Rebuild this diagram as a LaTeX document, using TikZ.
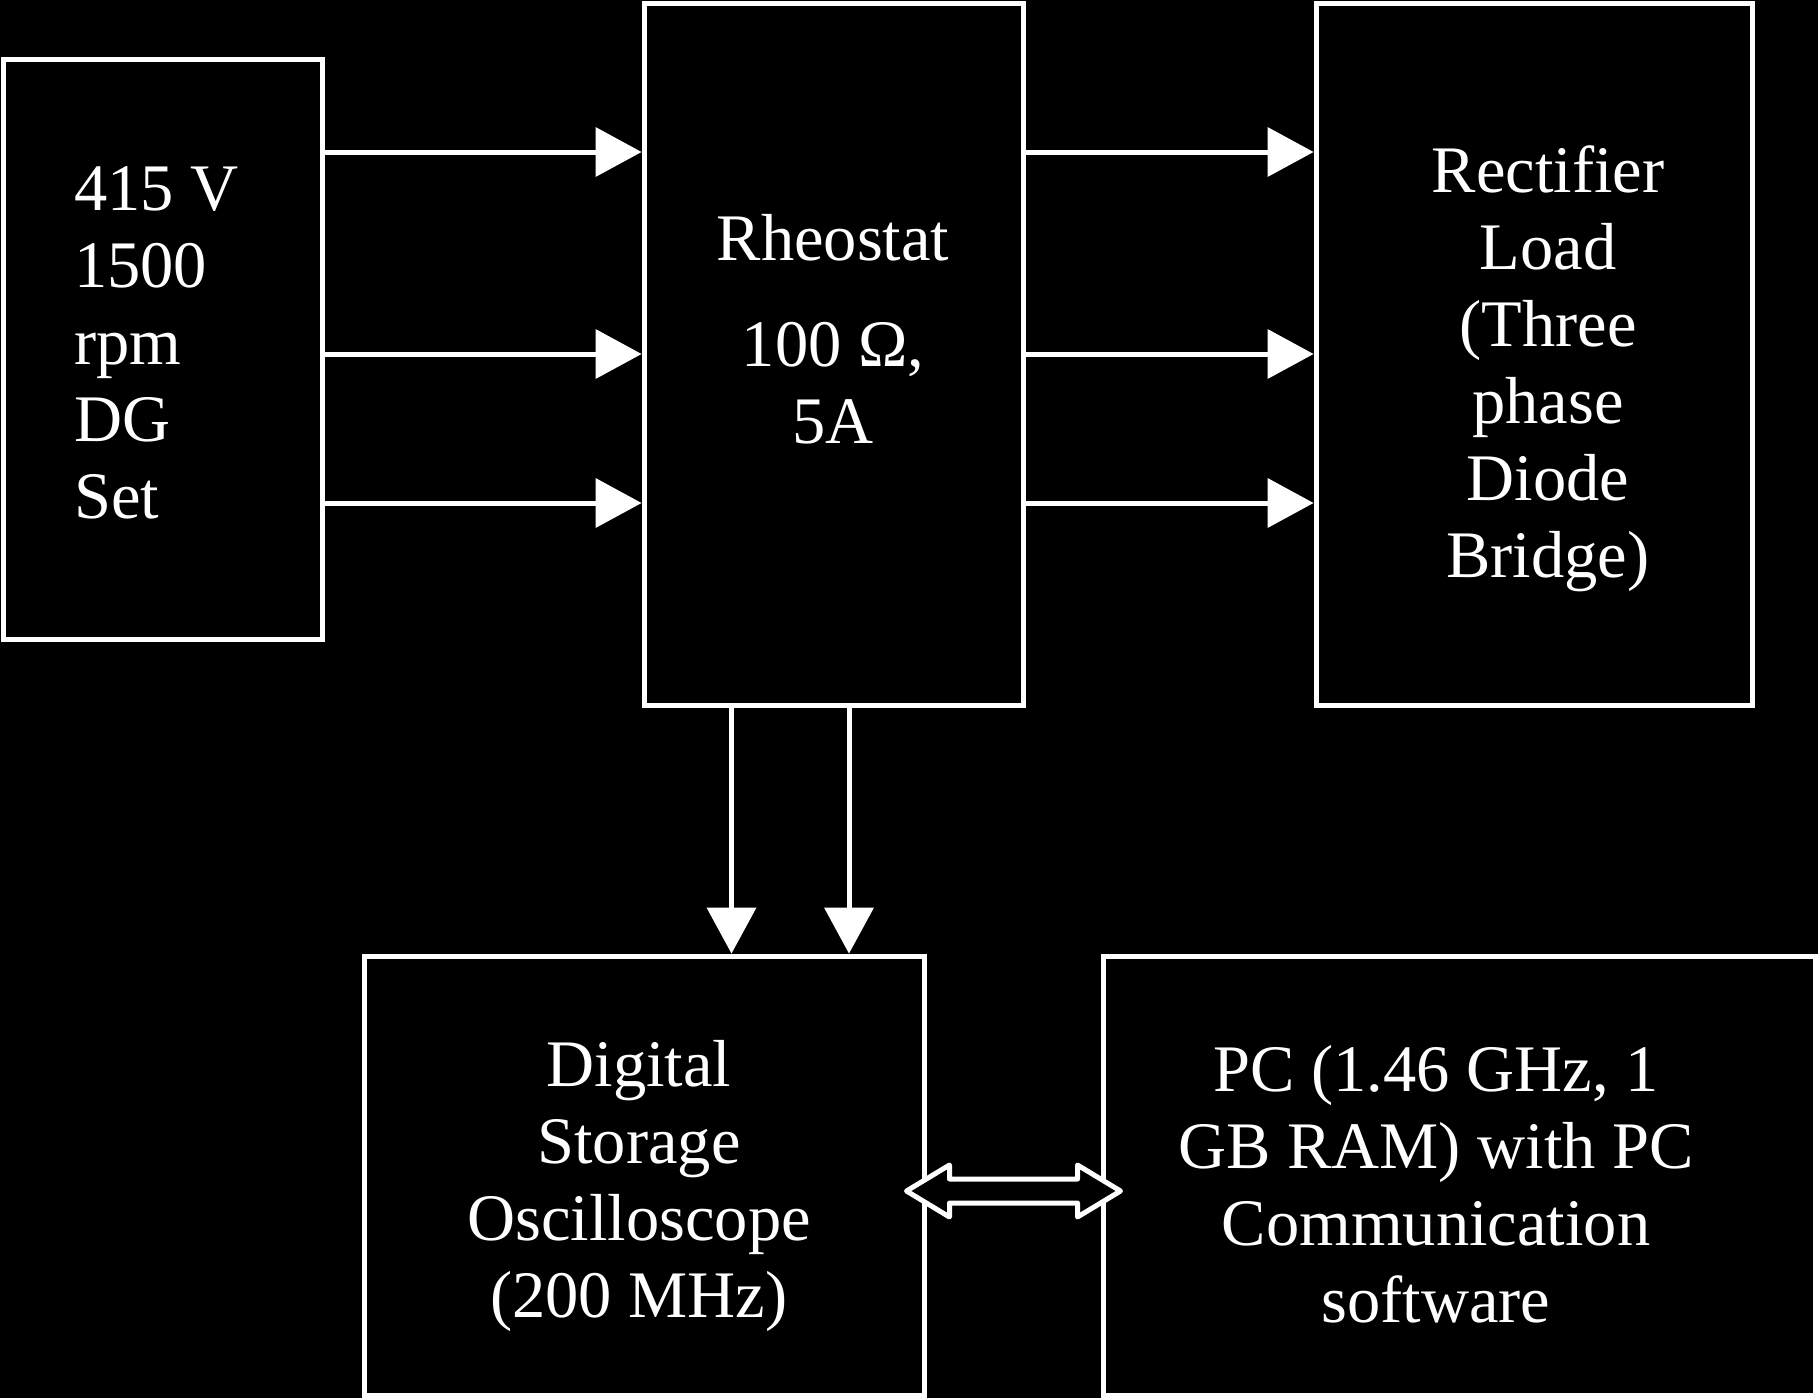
\documentclass[tikz,border=0pt]{standalone}
\usepackage{fontspec}
\setmainfont{Liberation Serif}
\usetikzlibrary{arrows.meta,calc}
\begin{document}
\begin{tikzpicture}[x=1pt,y=-1pt,
  box/.style={draw=white, line width=5pt, fill=black, inner sep=0pt},
  lbl/.style={text=white, inner sep=0pt, font=\fontsize{66.5pt}{77pt}\selectfont},
  arr/.style={draw=white, line width=5pt, -{Triangle[length=46pt,width=50pt,line width=0pt]}},
  dbl/.style={draw=white, fill=black, line width=5pt, line join=round}]
\fill[black] (0,0) rectangle (1818,1398);
\useasboundingbox (0,0) rectangle (1818,1398);
% boxes
\node[box, minimum width=319.5pt, minimum height=580pt] (dg) at (162.75,349) {};
\node[box, minimum width=379pt, minimum height=702pt] (rheo) at (833.5,354) {};
\node[box, minimum width=436pt, minimum height=702pt] (rect) at (1534,354) {};
\node[box, minimum width=560pt, minimum height=439pt] (dso) at (644,1175.5) {};
\node[box, minimum width=712pt, minimum height=439pt] (pc) at (1459,1175.5) {};
% texts
\node[lbl, align=left, anchor=west] (tdg) at (74,343) {415 V\\1500\\rpm\\DG\\Set};
\node[lbl, align=center] (trheo) at (833,329) {Rheostat\\[29pt]100 Ω,\\5A};
\node[lbl, align=center] (trect) at (1548,369) {Rectifier\\Load\\(Three\\phase\\Diode\\Bridge)};
\node[lbl, align=center] (tdso) at (639,1186) {Digital\\Storage\\Oscilloscope\\(200 MHz)};
\node[lbl, align=center] (tpc) at (1436,1184) {PC (1.46 GHz, 1\\GB RAM) with PC\\Communication\\software};
% arrows DG -> Rheostat
\foreach \yy in {152,354,503} {
  \draw[arr] (dg.east |- 0,\yy) -- (rheo.west |- 0,\yy);
  \draw[arr] (rheo.east |- 0,\yy) -- (rect.west |- 0,\yy);
}
% arrows Rheostat -> DSO
\foreach \xx in {731.5,849} {
  \draw[arr] (\xx,0 |- rheo.south) -- (\xx,0 |- dso.north);
}
% double arrow DSO <-> PC
\coordinate (m0) at ($(dso.east)!0.5!(pc.west)$);
\coordinate (dmid) at (m0 |- 0,1191);
\draw[dbl] ($(dmid)+(-107,0)$) -- ++(43,-26) -- ++(0,14) -- ++(128,0) -- ++(0,-14)
  -- ++(43,26) -- ++(-43,26) -- ++(0,-14) -- ++(-128,0) -- ++(0,14) -- cycle;
\end{tikzpicture}
\end{document}
